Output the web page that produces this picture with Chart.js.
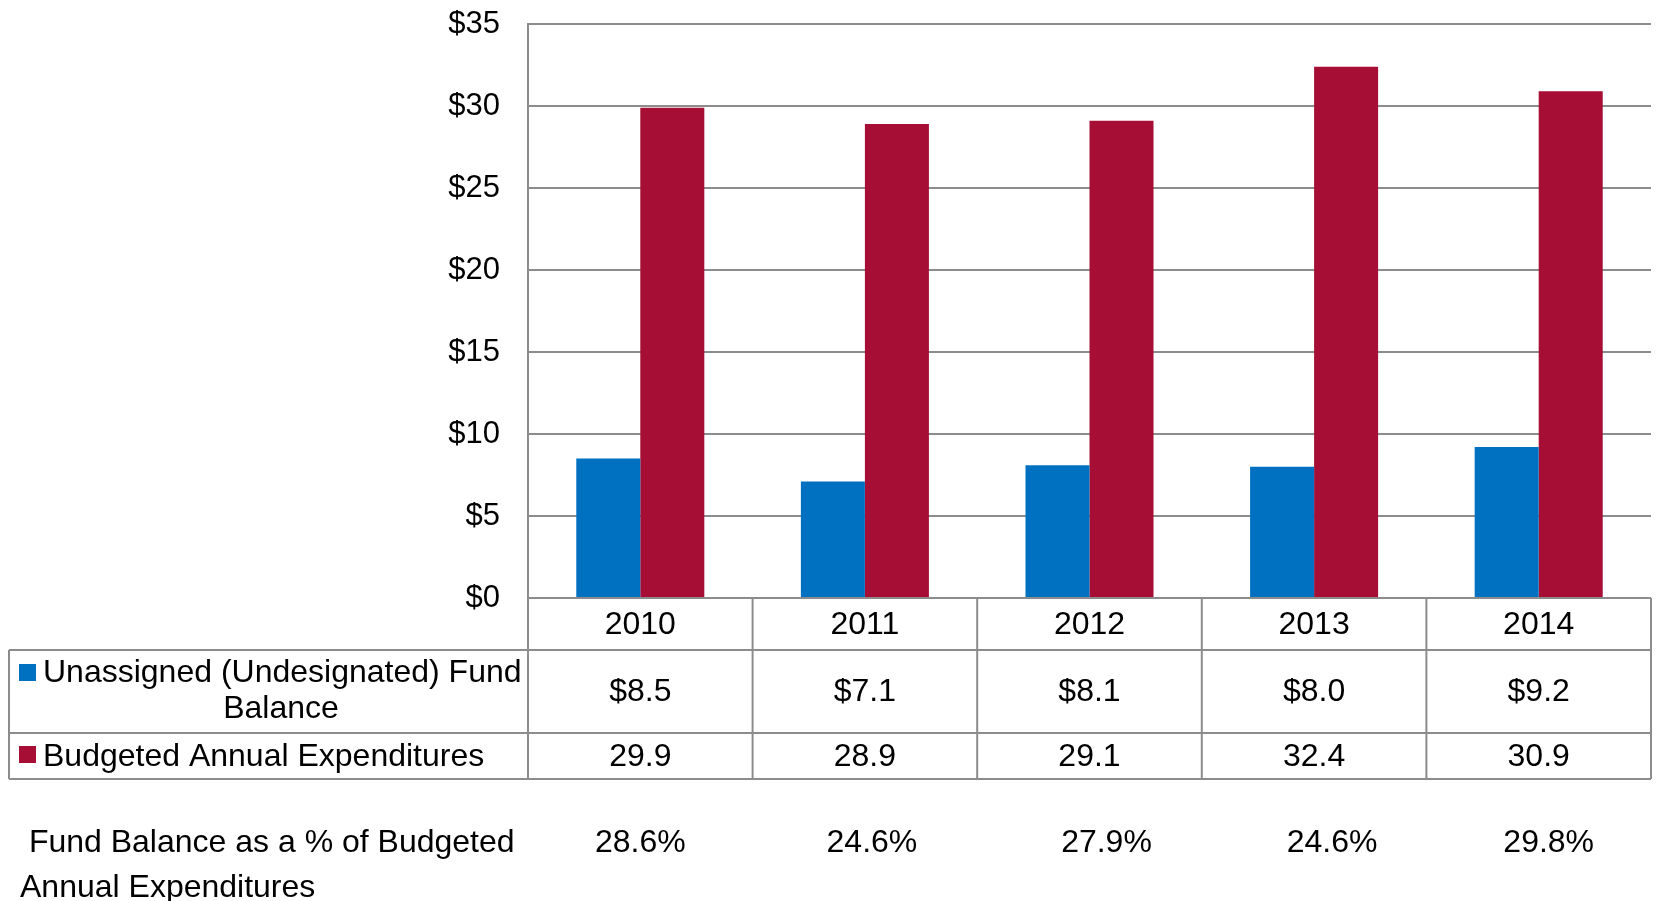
<!DOCTYPE html>
<html>
<head>
<meta charset="utf-8">
<script src="https://cdn.jsdelivr.net/npm/chart.js@4"></script>
<style>
  html, body { margin: 0; padding: 0; background: #fff; }
  #wrap { width: 1657px; height: 901px; position: relative; }
</style>
</head>
<body>
<div id="wrap"><canvas id="fundChart"></canvas></div>
<script>
// Données du graphique
const years = ['2010', '2011', '2012', '2013', '2014'];
const fundBalance = [8.5, 7.1, 8.1, 8.0, 9.2];
const expenditures = [29.9, 28.9, 29.1, 32.4, 30.9];
const pctOfExpenditures = [28.6, 24.6, 27.9, 24.6, 29.8];
const yTicks = [0, 5, 10, 15, 20, 25, 30, 35];

const seriesNames = ['Unassigned (Undesignated) Fund', 'Balance'];
const expName = 'Budgeted Annual Expenditures';
const footLines = [' Fund Balance as a % of Budgeted', 'Annual Expenditures'];

// décalage horizontal des pourcentages (mise en page)
const pctNudge = [0, 7, 17, 18, 10];

const BLUE = '#0070C0';
const RED = '#A60E35';
const GRID = '#8c8c8c';
const FONT = '32px "Liberation Sans", Arial, sans-serif';

// Tableau de données sous le graphique
const dataTable = {
    id: 'dataTable',
    afterDraw(chart) {
        const ctx = chart.ctx;
        const x = chart.scales.x;
        const area = chart.chartArea;
        const half = (area.right - area.left) / years.length / 2;
        const tableLeft = 9;
        const row1 = area.bottom + 52;
        const row2 = row1 + 83;
        const row3 = row2 + 46;

        ctx.save();
        ctx.strokeStyle = GRID;
        ctx.lineWidth = 2;
        ctx.beginPath();
        // lignes horizontales
        [row1, row2, row3].forEach(y => {
            ctx.moveTo(tableLeft, y);
            ctx.lineTo(area.right, y);
        });
        // lignes verticales
        ctx.moveTo(tableLeft, row1);
        ctx.lineTo(tableLeft, row3);
        ctx.moveTo(area.left, area.bottom);
        ctx.lineTo(area.left, row3);
        years.forEach((yr, i) => {
            const bx = x.getPixelForValue(i) + half;
            ctx.moveTo(bx, area.bottom);
            ctx.lineTo(bx, row3);
        });
        ctx.stroke();

        ctx.fillStyle = '#000';
        ctx.font = FONT;
        ctx.textBaseline = 'middle';
        ctx.textAlign = 'center';
        years.forEach((yr, i) => {
            const cx = x.getPixelForValue(i);
            ctx.fillText(yr, cx, (area.bottom + row1) / 2 + 1);
            ctx.fillText('$' + fundBalance[i].toFixed(1), cx, (row1 + row2) / 2 + 1);
            ctx.fillText(expenditures[i].toFixed(1), cx, (row2 + row3) / 2 + 1);
            ctx.fillText(pctOfExpenditures[i].toFixed(1) + '%', cx + pctNudge[i], 843);
        });

        // légende dans la première colonne
        ctx.fillStyle = BLUE;
        ctx.fillRect(19, row1 + 14, 17, 17);
        ctx.fillStyle = RED;
        ctx.fillRect(19, row2 + 13, 17, 17);
        ctx.fillStyle = '#000';
        ctx.textAlign = 'left';
        ctx.fillText(seriesNames[0], 43, row1 + 23);
        ctx.textAlign = 'center';
        ctx.fillText(seriesNames[1], 281, row1 + 59);
        ctx.textAlign = 'left';
        ctx.fillText(expName, 43, (row2 + row3) / 2 + 1);

        // ligne du pourcentage
        ctx.fillText(footLines[0], 20, 843);
        ctx.fillText(footLines[1], 20, 888);
        ctx.restore();
    }
};

new Chart(document.getElementById('fundChart').getContext('2d'), {
    type: 'bar',
    data: {
        labels: years,
        datasets: [
            { label: seriesNames.join(' '), data: fundBalance, backgroundColor: BLUE },
            { label: expName, data: expenditures, backgroundColor: RED }
        ]
    },
    options: {
        responsive: true,
        maintainAspectRatio: false,
        animation: false,
        layout: { padding: { top: 24, right: 6, bottom: 303, left: 0 } },
        plugins: {
            legend: { display: false },
            tooltip: { enabled: false }
        },
        datasets: {
            bar: { categoryPercentage: 0.57, barPercentage: 1.0 }
        },
        scales: {
            x: { display: false },
            y: {
                min: 0,
                max: 35,
                afterBuildTicks(scale) {
                    scale.ticks = yTicks.map(v => ({ value: v }));
                },
                afterFit(scale) { scale.width = 528; },
                border: { display: true, color: GRID, width: 2 },
                // marques de graduation invisibles pour décaler les libellés
                grid: { color: GRID, lineWidth: 2, drawTicks: true, tickLength: 28, tickColor: 'rgba(0,0,0,0)' },
                ticks: {
                    padding: 0,
                    color: '#000',
                    font: { family: '"Liberation Sans", Arial, sans-serif', size: 31 },
                    callback: v => '$' + v
                }
            }
        }
    },
    plugins: [dataTable]
});
</script>
</body>
</html>
